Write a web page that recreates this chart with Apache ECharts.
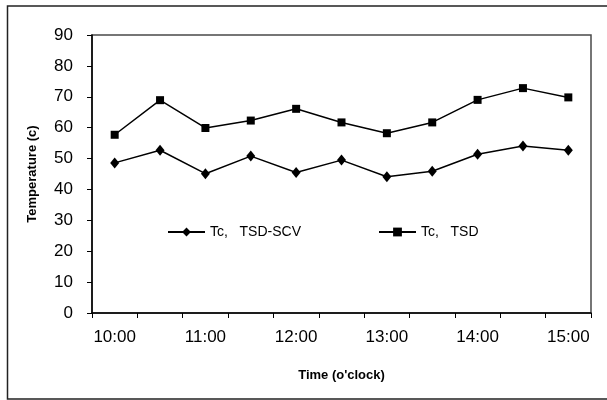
<!DOCTYPE html>
<html>
<head>
<meta charset="utf-8">
<script src="https://cdn.jsdelivr.net/npm/echarts@6/dist/echarts.min.js"></script>
<style>
  html, body { margin: 0; padding: 0; background: #fff; }
  #chart { width: 607px; height: 400px; }
</style>
</head>
<body>
<div id="chart"></div>
<script>
// Half-hourly readings, 10:00 to 15:00
const times = ['10:00', '10:30', '11:00', '11:30', '12:00', '12:30', '13:00', '13:30', '14:00', '14:30', '15:00'];
const tcTsdScv = [48.6, 52.7, 45.1, 50.8, 45.5, 49.5, 44.1, 45.9, 51.4, 54.1, 52.7];
const tcTsd = [57.7, 68.9, 59.9, 62.3, 66.1, 61.7, 58.2, 61.7, 69.0, 72.8, 69.8];
const yTicks = { min: 0, max: 90, step: 10 };

const FONT = 'Liberation Sans, Arial, sans-serif';

const chart = echarts.init(document.getElementById('chart'), null, { renderer: 'canvas' });

const legendBase = {
  orient: 'horizontal',
  top: 225,
  padding: 0,
  itemWidth: 37,
  itemHeight: 11,
  itemGap: 0,
  textStyle: { fontFamily: FONT, fontSize: 14, color: '#000' },
  selectedMode: false
};

chart.setOption({
  backgroundColor: '#fff',
  animation: false,
  grid: {
    left: 92, right: 16, top: 35, bottom: 87,
    show: true,
    borderColor: '#4a4a4a',
    borderWidth: 1.5,
    backgroundColor: 'transparent'
  },
  legend: [
    Object.assign({}, legendBase, { left: 167, data: ['Tc,   TSD-SCV'] }),
    Object.assign({}, legendBase, { left: 378, data: ['Tc,   TSD'] })
  ],
  xAxis: {
    type: 'category',
    data: times,
    boundaryGap: true,
    name: "Time (o'clock)",
    nameLocation: 'middle',
    nameGap: 56,
    nameTextStyle: { fontFamily: FONT, fontSize: 13, fontWeight: 'bold', color: '#000' },
    axisLine: { lineStyle: { color: '#000', width: 1.5 } },
    axisTick: { show: true, interval: 0, length: 5, inside: false, lineStyle: { color: '#000', width: 1 } },
    axisLabel: { interval: 1, margin: 16, fontFamily: FONT, fontSize: 17, color: '#000' },
    splitLine: { show: false }
  },
  yAxis: {
    type: 'value',
    min: yTicks.min,
    max: yTicks.max,
    interval: yTicks.step,
    name: 'Temperature (c)',
    nameLocation: 'middle',
    nameGap: 53,
    nameRotate: 90,
    nameTextStyle: { fontFamily: FONT, fontSize: 13, fontWeight: 'bold', color: '#000' },
    axisLine: { show: true, lineStyle: { color: '#000', width: 1.5 } },
    axisTick: { show: true, length: 5, lineStyle: { color: '#000', width: 1 } },
    axisLabel: { margin: 19, fontFamily: FONT, fontSize: 17, color: '#000' },
    splitLine: { show: false }
  },
  series: [
    {
      name: 'Tc,   TSD-SCV',
      type: 'line',
      data: tcTsdScv,
      symbol: 'diamond',
      symbolSize: [9, 11],
      lineStyle: { color: '#000', width: 1.5 },
      itemStyle: { color: '#000' }
    },
    {
      name: 'Tc,   TSD',
      type: 'line',
      data: tcTsd,
      symbol: 'rect',
      symbolSize: 8,
      lineStyle: { color: '#000', width: 1.5 },
      itemStyle: { color: '#000' }
    }
  ],
  graphic: [
    {
      type: 'rect',
      shape: { x: 7.5, y: 6, width: 700, height: 393 },
      style: { fill: 'none', stroke: '#222', lineWidth: 1.5 },
      silent: true
    }
  ]
});
</script>
</body>
</html>
